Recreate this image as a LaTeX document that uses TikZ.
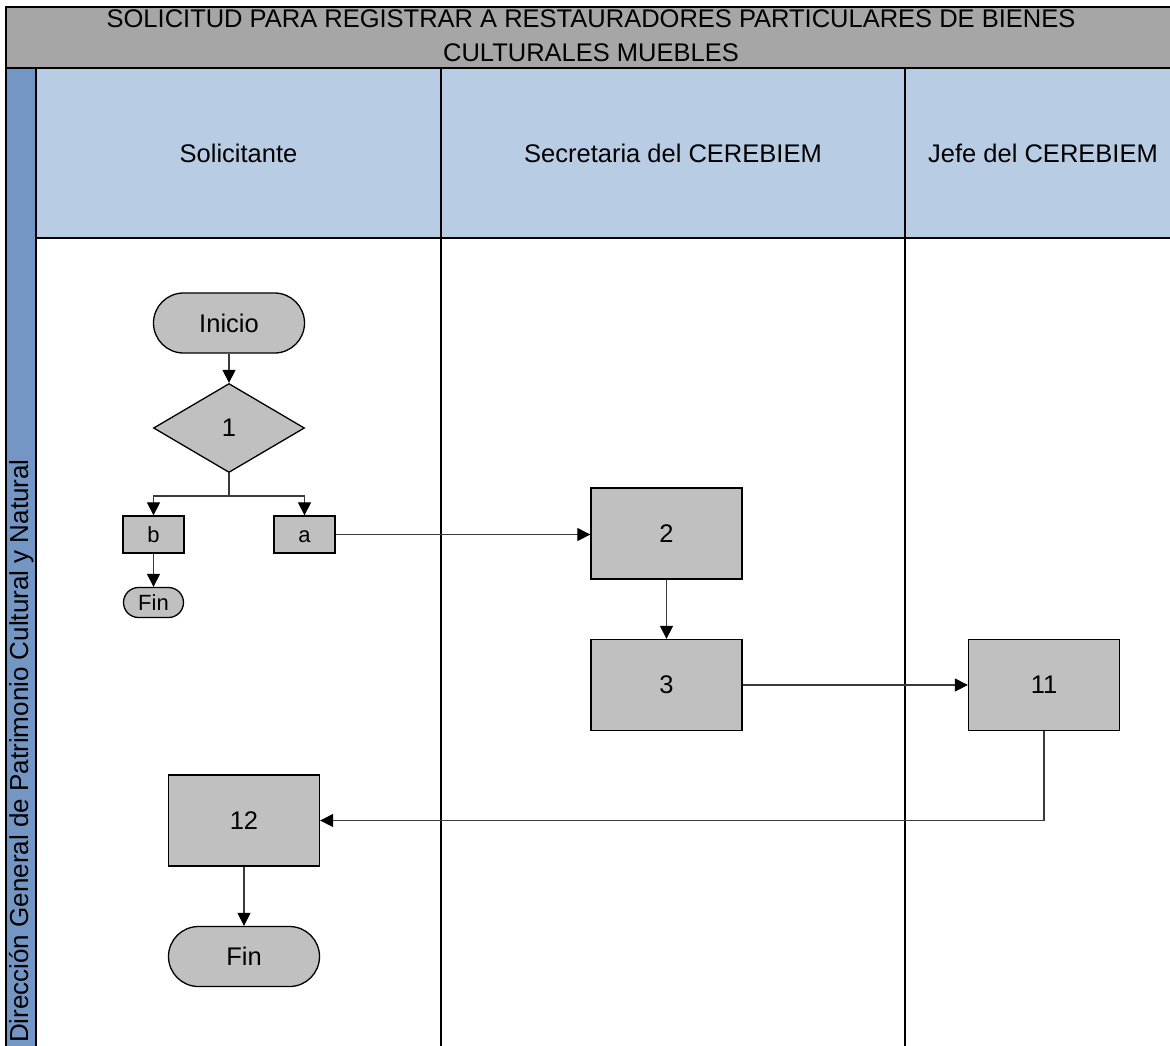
\documentclass[tikz,border=0pt]{standalone}
\usepackage{fontspec}
\setmainfont{Liberation Sans}
\usetikzlibrary{arrows.meta,shapes.geometric,shapes.misc}
\definecolor{titlegray}{HTML}{A6A6A6}
\definecolor{lanehead}{HTML}{B8CCE4}
\definecolor{poolstrip}{HTML}{7396C4}
\definecolor{nodefill}{HTML}{C0C0C0}
\definecolor{wire}{HTML}{3A3A3A}

\begin{document}
\begin{tikzpicture}[x=1pt,y=-1pt,
  every node/.style={inner sep=0pt},
  big/.style={font=\fontsize{25.5}{34}\selectfont},
  small/.style={font=\fontsize{22}{26}\selectfont},
  shapebase/.style={draw=black, line width=1.3pt, fill=nodefill},
  proc/.style={shapebase, rectangle, minimum width=151pt, minimum height=91pt, big},
  tag/.style={shapebase, rectangle, minimum width=61pt, minimum height=37pt, small,
    text height=16pt, text depth=0pt},
  term/.style={shapebase, rounded rectangle, minimum width=151pt, minimum height=60pt, big},
  termsmall/.style={shapebase, rounded rectangle, minimum width=60pt, minimum height=30pt, small},
  decision/.style={shapebase, diamond, minimum width=151pt, minimum height=89pt, big},
  flow/.style={draw=wire, line width=1.1pt, -{Triangle[length=13pt,width=13pt,color=black]}},
  link/.style={draw=wire, line width=1.1pt},
  frame/.style={draw=black, line width=1.6pt}
]
\useasboundingbox (0,0) rectangle (1170,1045);
\clip (0,0) rectangle (1170,1045);
\fill[white] (0,0) rectangle (1170,1045);

% pool title band
\draw[frame, fill=titlegray] (6,7) rectangle (1178,68);
% pool name strip
\draw[frame, fill=poolstrip] (6,68) rectangle (36,1060);
% lane headers and lane bodies
\draw[frame, fill=lanehead] (36,68) rectangle (1178,238);
\draw[frame] (36,238) rectangle (1178,1060);
\draw[frame] (441,68) -- (441,1060);
\draw[frame] (905,68) -- (905,1060);

% texts of the pool
\node[big, anchor=north, align=center] (title) at (591,9)
  {SOLICITUD PARA REGISTRAR A RESTAURADORES PARTICULARES DE BIENES\\CULTURALES MUEBLES};
\node[big, anchor=base] (laneA) at (238.5,162) {Solicitante};
\node[big, anchor=base] (laneB) at (673,162) {Secretaria del CEREBIEM};
\node[big, anchor=base] (laneC) at (1043,162) {Jefe del CEREBIEM};
\node[font=\fontsize{26}{30}\selectfont, anchor=base, rotate=90] (pool) at (28,751)
  {Dirección General de Patrimonio Cultural y Natural};

% flow nodes
\node[term] (inicio) at (229,323) {Inicio};
\node[decision] (d1) at (229,428) {1};
\node[tag] (b) at (153.5,534.5) {b};
\node[tag] (a) at (304.5,534.5) {a};
\node[termsmall] (fin1) at (153.5,602.5) {Fin};
\node[proc] (n2) at (666.5,533.5) {2};
\node[proc] (n3) at (666.5,685) {3};
\node[proc] (n11) at (1044,685) {11};
\node[proc] (n12) at (244,820.5) {12};
\node[term] (fin2) at (244,956.5) {Fin};
\coordinate (split) at (229,496);

% connectors
\draw[flow] (inicio.south) -- (d1.north);
\draw[link] (d1.south) -- (split);
\draw[flow] (split) -| (b.north);
\draw[flow] (split) -| (a.north);
\draw[flow] (b.south) -- (fin1.north);
\draw[flow] (a.east) -- (a.east -| n2.west);
\draw[flow] (n2.south) -- (n3.north);
\draw[flow] (n3.east) -- (n3.east -| n11.west);
\draw[flow] (n11.south) |- (n12.east);
\draw[flow] (n12.south) -- (fin2.north);
\end{tikzpicture}
\end{document}
